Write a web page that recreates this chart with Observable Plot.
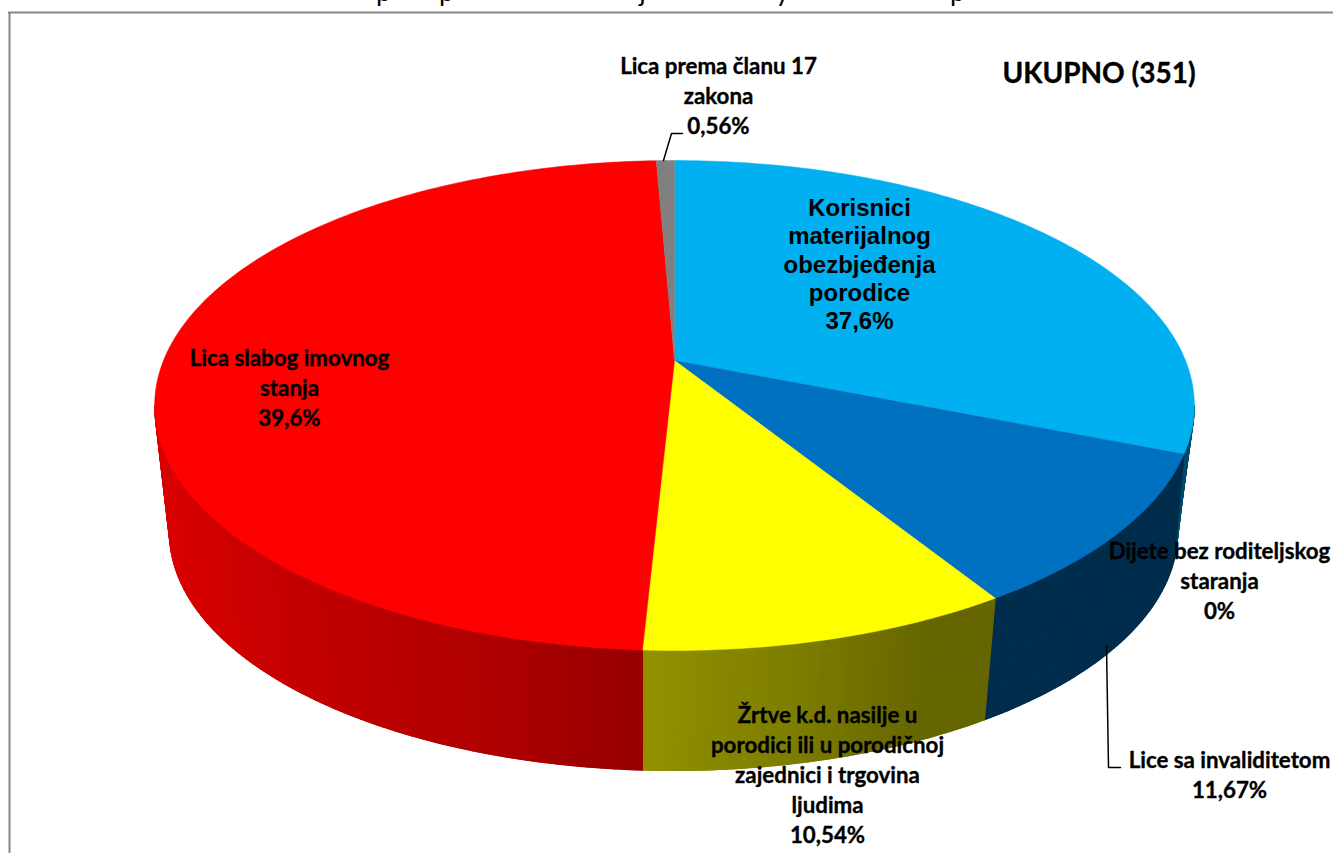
<!DOCTYPE html>
<html>
<head>
<meta charset="utf-8">
<script src="https://cdn.jsdelivr.net/npm/d3@7"></script>
<script src="https://cdn.jsdelivr.net/npm/@observablehq/plot@0.6"></script>
<style>html,body{margin:0;padding:0;background:#fff;overflow:hidden}svg{display:block}</style>
</head>
<body>
<div id="chart"></div>
<script>
// ---- Data: clockwise from the top of the pie, shares as drawn in the picture
const categories = ["Korisnici materijalnog obezbjeđenja porodice", "Lice sa invaliditetom", "Žrtve k.d. nasilje", "Lica slabog imovnog stanja", "Lica prema članu 17 zakona"];
const drawnShares = [31.0, 10.1, 9.7, 48.5, 0.67];
const topColors = ["#00b0f0", "#0070c0", "#ffff00", "#ff0000", "#808080"];
const wallRamps = [
  [[1170, "#004a6b"], [1195, "#004a6b"]],
  [[985, "#002d4d"], [1175, "#002d4d"]],
  [[645, "#919100"], [800, "#7c7c00"], [920, "#666600"], [990, "#666600"]],
  [[172, "#d80000"], [300, "#c30000"], [480, "#b00000"], [645, "#960000"]],
  [[650, "#404040"], [680, "#404040"]]
];
// ---- Printed labels (their text, as in the picture)
const labelTexts = [
  "Lica prema članu 17\nzakona\n0,56%",
  "Lica slabog imovnog\nstanja\n39,6%",
  "Dijete bez roditeljskog\nstaranja\n0%",
  "Lice sa invaliditetom\n11,67%",
  "Žrtve k.d. nasilje u\nporodici ili u porodičnoj\nzajednici i trgovina\nljudima\n10,54%"
];
const blueLabel = "Korisnici\nmaterijalnog\nobezbjeđenja\nporodice\n37,6%";
const totalLabel = "UKUPNO (351)";
const titleFragments = ["p", "p", "j", "y", "p"];
// ---- Layout
const labelAnchors = [[718, 94], [289, 386], [1219, 579], [1229, 772.5], [827, 773]];
const blueAnchor = [859, 263];
const totalAnchor = [1098.5, 73.5];
const titleXs = [383, 446, 642, 782, 957];
const leaders = [
  [[663, 160], [671, 133], [682, 133]],
  [[1106, 645], [1108, 767], [1120, 767]]
];
const P = {cx: 674, cy: 360, a: 511, b: 236.7, p: 0.1837};
const E = {x: 674, y: 405, rx: 520, ry: 245};
const B = {x: 673, y: 532, rx: 504, ry: 238};

const rad = d => d * Math.PI / 180;
function rim(t) {
  const s = Math.sin(rad(t)), c = Math.cos(rad(t)), w = 1 + P.p * c;
  return [P.cx + P.a * s / w, P.cy - P.b * c / w];
}
function floor(t) {
  const [x, y] = rim(t);
  let f = Math.atan2((x - E.x) / E.rx, -(y - E.y) / E.ry) * 180 / Math.PI;
  if (f < 0) f += 360;
  const d = 5 * Math.max(0, Math.min(1, (142 - f) / 40));
  f = Math.max(90, Math.min(270, f - d));
  return [B.x + B.rx * Math.sin(rad(f)), B.y - B.ry * Math.cos(rad(f))];
}
const total = d3.sum(drawnShares);
const cum = d3.cumsum(drawnShares);
const edges = [0, ...cum].map(v => v / total * 360);
const T0 = 100.6, T1 = 259.4;

const tops = [], walls = [], bases = [];
drawnShares.forEach((_, i) => {
  const a0 = edges[i], a1 = edges[i + 1];
  const n = Math.max(2, Math.ceil(a1 - a0));
  tops.push({id: "t" + i, x: P.cx, y: P.cy, c: topColors[i]});
  for (let k = 0; k <= n; k++) {
    const [x, y] = rim(a0 + (a1 - a0) * k / n);
    tops.push({id: "t" + i, x, y, c: topColors[i]});
  }
  const w0 = Math.max(a0, T0), w1 = Math.min(a1, T1);
  if (w1 > w0) {
    const ramp = wallRamps[i];
    const col = d3.scaleLinear().domain(ramp.map(r => r[0])).range(ramp.map(r => r[1])).interpolate(d3.interpolateRgb).clamp(true);
    const m = Math.ceil((w1 - w0) * 1.5);
    const upper = [], lower = [];
    for (let k = 0; k <= m; k++) {
      const t = w0 + (w1 - w0) * k / m;
      upper.push(rim(t));
      lower.push(floor(t));
    }
    const baseColor = col(d3.mean(upper, d => d[0]));
    [...upper, ...lower.reverse()].forEach(([x, y]) => bases.push({id: "b" + i, x, y, c: baseColor}));
    lower.reverse();
    for (let k = 0; k < m; k++) {
      const q = [upper[k], upper[k + 1], lower[k + 1], lower[k]];
      const c = col(d3.mean(q, d => d[0]));
      q.forEach(([x, y]) => walls.push({id: `w${i}-${k}`, x, y, c}));
    }
  }
});

const labelRows = labelTexts.map((text, i) => ({text, x: labelAnchors[i][0], y: labelAnchors[i][1]}));
const leaderRows = leaders.flatMap((l, i) => l.map(([x, y]) => ({id: i, x, y})));
const sans = "Lato, Carlito, sans-serif";

const chart = Plot.plot({
  width: 1333, height: 853, margin: 0,
  style: {background: "#fff", overflow: "hidden"},
  x: {domain: [0, 1333], range: [0, 1333], axis: null},
  y: {domain: [0, 853], range: [0, 853], axis: null},
  marks: [
    Plot.text(titleFragments, {x: (d, i) => titleXs[i], y: () => 0, text: d => d, fontFamily: sans, fontSize: 27, fill: "#000", textAnchor: "middle", lineAnchor: "bottom"}),
    Plot.ruleY([12], {x1: 8, x2: 1333, stroke: "#878787", strokeWidth: 2}),
    Plot.ruleX([9], {y1: 12, y2: 853, stroke: "#878787", strokeWidth: 2}),
    Plot.line(bases, {x: "x", y: "y", z: "id", fill: "c", stroke: "c", strokeWidth: 0.5, curve: "linear-closed"}),
    Plot.line(walls, {x: "x", y: "y", z: "id", fill: "c", stroke: "c", strokeWidth: 1.2, curve: "linear-closed"}),
    Plot.line(tops, {x: "x", y: "y", z: "id", fill: "c", stroke: "c", strokeWidth: 0.5, curve: "linear-closed"}),
    Plot.line(leaderRows, {x: "x", y: "y", z: "id", stroke: "#000", strokeWidth: 1.5, curve: "linear"}),
    Plot.text(labelRows, {x: "x", y: "y", text: "text", fontFamily: sans, fontWeight: 700, fontSize: 22.3, lineHeight: 1.34, fill: "#000", stroke: "#000", strokeWidth: 0.35, textAnchor: "middle"}),
    Plot.text([blueLabel], {x: () => blueAnchor[0], y: () => blueAnchor[1], text: d => d, fontFamily: "Liberation Sans, Arial, sans-serif", fontWeight: 700, fontSize: 24, lineHeight: 1.17, fill: "#000", textAnchor: "middle"}),
    Plot.text([totalLabel], {x: () => totalAnchor[0], y: () => totalAnchor[1], text: d => d, fontFamily: sans, fontWeight: 700, fontSize: 28, fill: "#000", stroke: "#000", strokeWidth: 0.35, textAnchor: "middle"})
  ]
});
document.getElementById("chart").append(chart);
</script>
</body>
</html>
